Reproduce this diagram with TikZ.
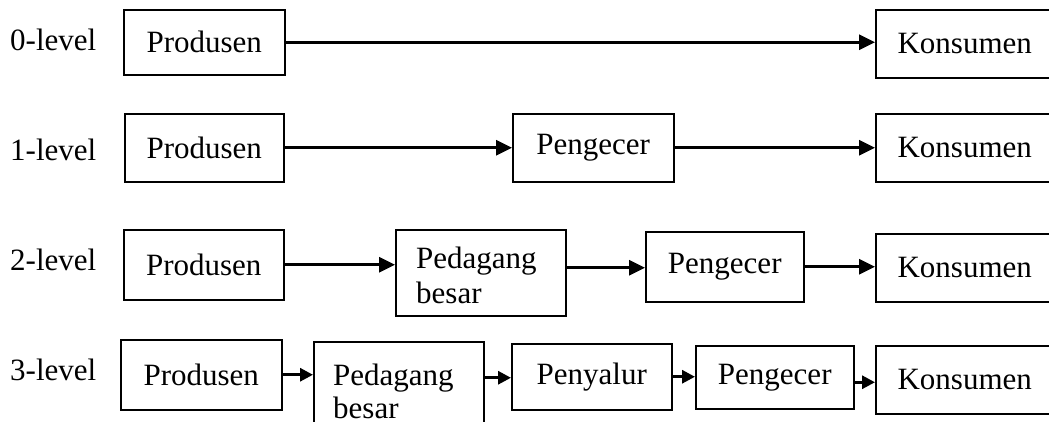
\documentclass[tikz,border=0pt]{standalone}
\usepackage{fontspec}
\setmainfont{Liberation Serif}
\usetikzlibrary{arrows.meta}
\begin{document}
\begin{tikzpicture}[x=1pt,y=-1pt,
  box/.style={draw, line width=1.5pt, rectangle, inner sep=0pt, anchor=north west,
    font=\fontsize{31}{35}\selectfont},
  txt/.style={anchor=base west, inner sep=0pt, font=\fontsize{31}{35}\selectfont},
  arr/.style={line width=3pt, -{Triangle[length=16pt,width=15pt]}},
  sarr/.style={line width=3pt, -{Triangle[length=13pt,width=13pt]}}]
\useasboundingbox (0,0) rectangle (1049,421);
\clip (0,0) rectangle (1049,421);
\fill[white] (0,0) rectangle (1049,421);

% level labels
\node[txt] (l0) at (10,50) {0-level};
\node[txt] (l1) at (10,160) {1-level};
\node[txt] (l2) at (10,270) {2-level};
\node[txt] (l3) at (10,380) {3-level};

% row 0
\node[box, minimum width=161, minimum height=65] (p0) at (123,9) {Produsen};
\node[box, minimum width=178, minimum height=68] (k0) at (875,9) {Konsumen};
\draw[arr] (p0.east) -- (p0.east -| k0.west);

% row 1
\node[box, minimum width=159, minimum height=68] (p1) at (124,113) {Produsen};
\node[box, minimum width=161, minimum height=68] (g1) at (512,113) {Pengecer};
\node[box, minimum width=178, minimum height=68] (k1) at (875,113) {Konsumen};
\draw[arr] (p1.east) -- (p1.east -| g1.west);
\draw[arr] (g1.east) -- (g1.east -| k1.west);

% row 2
\node[box, minimum width=160, minimum height=70] (p2) at (123,229) {Produsen};
\node[box, minimum width=170, minimum height=86] (pb2) at (395,229) {};
\node[txt] (pb2a) at ([xshift=21pt,yshift=-39pt]pb2.north west) {Pedagang};
\node[txt] (pb2b) at ([xshift=21pt,yshift=-74pt]pb2.north west) {besar};
\node[box, minimum width=158, minimum height=70] (g2) at (645,231) {Pengecer};
\node[box, minimum width=178, minimum height=68] (k2) at (875,233) {Konsumen};
\draw[arr] (p2.east) -- (p2.east -| pb2.west);
\draw[arr] ([yshift=5pt]pb2.east) -- ([yshift=5pt]pb2.east -| g2.west);
\draw[arr] (g2.east) -- (g2.east -| k2.west);

% row 3
\node[box, minimum width=161, minimum height=70] (p3) at (120,339) {Produsen};
\node[box, minimum width=170, minimum height=90] (pb3) at (313,341) {};
\node[txt] (pb3a) at ([xshift=20pt,yshift=-44pt]pb3.north west) {Pedagang};
\node[txt] (pb3b) at ([xshift=20pt,yshift=-77pt]pb3.north west) {besar};
\node[box, minimum width=160, minimum height=66] (n3) at (511,343) {Penyalur};
\node[box, minimum width=158, minimum height=63] (g3) at (695,345) {Pengecer};
\node[box, minimum width=178, minimum height=68] (k3) at (875,345) {Konsumen};
\draw[sarr] (p3.east) -- (p3.east -| pb3.west);
\draw[sarr] ([yshift=9pt]pb3.east) -- ([yshift=9pt]pb3.east -| n3.west);
\draw[sarr] (n3.east) -- (n3.east -| g3.west);
\draw[sarr] ([yshift=-5pt]g3.east) -- ([yshift=-5pt]g3.east -| k3.west);
\end{tikzpicture}
\end{document}
